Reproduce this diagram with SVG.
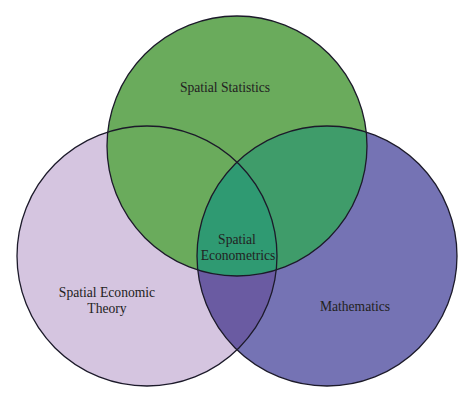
<svg xmlns="http://www.w3.org/2000/svg" width="474" height="404" viewBox="0 0 474 404">
<defs>
<style>
.lbl{font-family:"Liberation Serif","Times New Roman",serif;font-size:13.6px;fill:#222222;text-anchor:middle}
.ol{fill:none;stroke:#1c1a2a;stroke-width:1.3}
</style>
<clipPath id="cL"><circle cx="147" cy="256" r="130"/></clipPath>
<clipPath id="cP"><circle cx="327" cy="256" r="130"/></clipPath>
<clipPath id="cG"><circle cx="237" cy="146" r="130"/></clipPath>
</defs>
<rect width="474" height="404" fill="#ffffff"/>
<g id="fills">
<circle cx="147" cy="256" r="130" fill="#d5c5e0"/>
<circle cx="327" cy="256" r="130" fill="#7573b4"/>
<g clip-path="url(#cL)"><circle cx="327" cy="256" r="130" fill="#6a5ba2"/></g>
<circle cx="237" cy="146" r="130" fill="#6aab5c"/>
<g clip-path="url(#cP)"><circle cx="237" cy="146" r="130" fill="#3f9c6a"/></g>
<g clip-path="url(#cL)"><g clip-path="url(#cP)"><circle cx="237" cy="146" r="130" fill="#2f9a72"/></g></g>
</g>
<g id="theory"><circle class="ol" cx="147" cy="256" r="130"/><text class="lbl" x="107" y="297">Spatial Economic</text><text class="lbl" x="107" y="313">Theory</text></g>
<g id="math"><circle class="ol" cx="327" cy="256" r="130"/><text class="lbl" x="355" y="311">Mathematics</text></g>
<g id="stats"><circle class="ol" cx="237" cy="146" r="130"/><text class="lbl" x="225" y="92">Spatial Statistics</text></g>
<g id="econometrics"><text class="lbl" x="237" y="244">Spatial</text><text class="lbl" x="238" y="260">Econometrics</text></g>
<g id="connectors"/>
</svg>
